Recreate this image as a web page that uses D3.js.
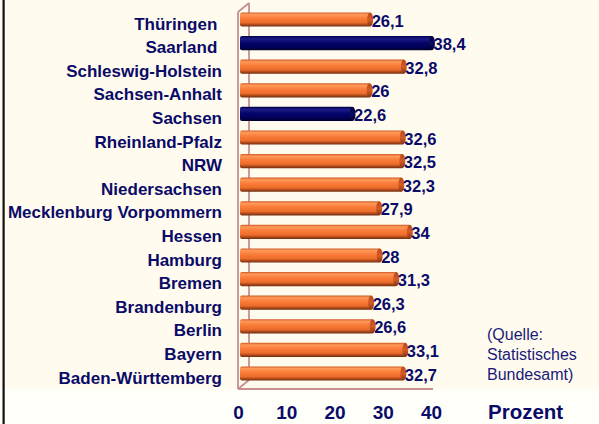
<!DOCTYPE html>
<html>
<head>
<meta charset="utf-8">
<script src="https://cdn.jsdelivr.net/npm/d3@7"></script>
<style>
  html, body { margin: 0; padding: 0; background: #fffdf2; }
  svg { display: block; }
  svg text { font-family: "Liberation Sans", Arial, sans-serif; }
</style>
</head>
<body>
<div id="chart"></div>
<script>
// categories top to bottom, as in the picture
const states = ['Thüringen ', 'Saarland ', 'Schleswig-Holstein', 'Sachsen-Anhalt', 'Sachsen',
  'Rheinland-Pfalz', 'NRW', 'Niedersachsen', 'Mecklenburg Vorpommern', 'Hessen', 'Hamburg',
  'Bremen', 'Brandenburg', 'Berlin', 'Bayern', 'Baden-Württemberg'];
const values = [26.1, 38.4, 32.8, 26, 22.6, 32.6, 32.5, 32.3, 27.9, 34, 28, 31.3, 26.3, 26.6, 33.1, 32.7];
const highlighted = ['Saarland ', 'Sachsen'];
const xTicks = [0, 10, 20, 30, 40];
const sourceLines = ['(Quelle:', 'Statistisches', 'Bundesamt)'];
const unitLabel = 'Prozent';

const W = 599, H = 424;
const navy = '#0a0a68';
const wallColor = '#c88f8f';

const svg = d3.select('#chart').append('svg')
  .attr('width', W)
  .attr('height', H);

// background
svg.append('rect').attr('width', W).attr('height', H).attr('fill', '#fffffa');
svg.append('rect').attr('width', W).attr('height', 389).attr('fill', '#fffcef');
svg.append('rect').attr('x', 2.5).attr('y', 0).attr('width', 2.2).attr('height', H).attr('fill', '#111');

const defs = svg.append('defs');
function cylGradient(id, stops) {
  const g = defs.append('linearGradient').attr('id', id)
    .attr('x1', 0).attr('y1', 0).attr('x2', 0).attr('y2', 1);
  stops.forEach(s => g.append('stop').attr('offset', s[0]).attr('stop-color', s[1]));
}
cylGradient('gOrange', [[0, '#d05a24'], [0.15, '#ff9a5a'], [0.4, '#fb7d3a'], [0.72, '#ec6c2a'], [0.88, '#a8461a'], [1, '#6e2c10']]);
cylGradient('gNavy', [[0, '#00004a'], [0.2, '#1c1c88'], [0.45, '#05056c'], [0.8, '#000056'], [1, '#000028']]);
cylGradient('gOrangeCap', [[0, '#b44a1a'], [0.5, '#d45c26'], [1, '#843410']]);
cylGradient('gNavyCap', [[0, '#000040'], [0.5, '#0c0c60'], [1, '#000028']]);

// scales: bars sit slightly behind the front plane of the 3D frame
const xBar = d3.scaleLinear().domain([0, 40]).range([240, 441]);
const xFront = d3.scaleLinear().domain([0, 40]).range([238, 431]);
const y = d3.scaleBand().domain(states).range([7.7, 385.3]).paddingInner(0.4).paddingOuter(0.2);

// 3D wall on the left
const depthX = 11, depthY = -9;
const wallTop = 12, floorY = 389;
const x0 = xFront(0);
const wall = svg.append('g')
  .attr('fill', 'none')
  .attr('stroke', wallColor)
  .attr('stroke-width', 1.8);
wall.append('line').attr('x1', x0 + depthX).attr('y1', wallTop + depthY).attr('x2', x0 + depthX).attr('y2', floorY + depthY);
wall.append('line').attr('x1', x0).attr('y1', wallTop).attr('x2', x0 + depthX).attr('y2', wallTop + depthY);
wall.append('line').attr('x1', x0).attr('y1', floorY).attr('x2', x0 + depthX).attr('y2', floorY + depthY);
wall.append('line').attr('x1', x0).attr('y1', wallTop).attr('x2', x0).attr('y2', floorY);
wall.append('line').attr('x1', x0).attr('y1', floorY).attr('x2', xFront(40) + 2).attr('y2', floorY);

// bars
const rows = states.map((s, i) => ({ state: s, value: values[i], hi: highlighted.includes(s) }));
const bh = y.bandwidth();
const bars = svg.append('g').selectAll('g.bar').data(rows).join('g').attr('class', 'bar');

bars.append('rect')
  .attr('x', xBar(0))
  .attr('y', d => y(d.state))
  .attr('width', d => xBar(d.value) - xBar(0))
  .attr('height', bh)
  .attr('rx', 2)
  .attr('fill', d => d.hi ? 'url(#gNavy)' : 'url(#gOrange)');

bars.append('ellipse')
  .attr('cx', d => xBar(d.value) - 1)
  .attr('cy', d => y(d.state) + bh / 2)
  .attr('rx', 3)
  .attr('ry', bh / 2)
  .attr('fill', d => d.hi ? 'url(#gNavyCap)' : 'url(#gOrangeCap)');

// value labels
bars.append('text')
  .attr('x', d => xBar(d.value) + 0.5)
  .attr('y', d => y(d.state) + bh / 2 + 7)
  .attr('fill', navy)
  .attr('font-size', 16.5)
  .attr('font-weight', 'bold')
  .text(d => String(d.value).replace('.', ','));

// category axis
const yAxis = svg.append('g')
  .attr('transform', 'translate(222,0)')
  .call(d3.axisLeft(y).tickSize(0).tickPadding(0));
yAxis.attr('font-family', null);
yAxis.select('.domain').remove();
yAxis.selectAll('text')
  .attr('fill', navy)
  .attr('font-size', 17)
  .attr('font-weight', 'bold')
  .attr('dy', 10)
  .style('white-space', 'pre');

// value axis labels
const xAxis = svg.append('g')
  .attr('transform', 'translate(0,' + (419 - 14) + ')')
  .call(d3.axisBottom(xFront).tickValues(xTicks).tickSize(0).tickPadding(0).tickFormat(d3.format('d')));
xAxis.attr('font-family', null);
xAxis.select('.domain').remove();
xAxis.selectAll('text')
  .attr('fill', navy)
  .attr('font-size', 19)
  .attr('font-weight', 'bold')
  .attr('dy', 14);

svg.append('text')
  .attr('x', 488)
  .attr('y', 419)
  .attr('fill', navy)
  .attr('font-size', 20.5)
  .attr('font-weight', 'bold')
  .text(unitLabel);

svg.append('g').selectAll('text').data(sourceLines).join('text')
  .attr('x', 487)
  .attr('y', (d, i) => 340 + i * 20)
  .attr('fill', '#1a1a7a')
  .attr('font-size', 16)
  .text(d => d);
</script>
</body>
</html>
